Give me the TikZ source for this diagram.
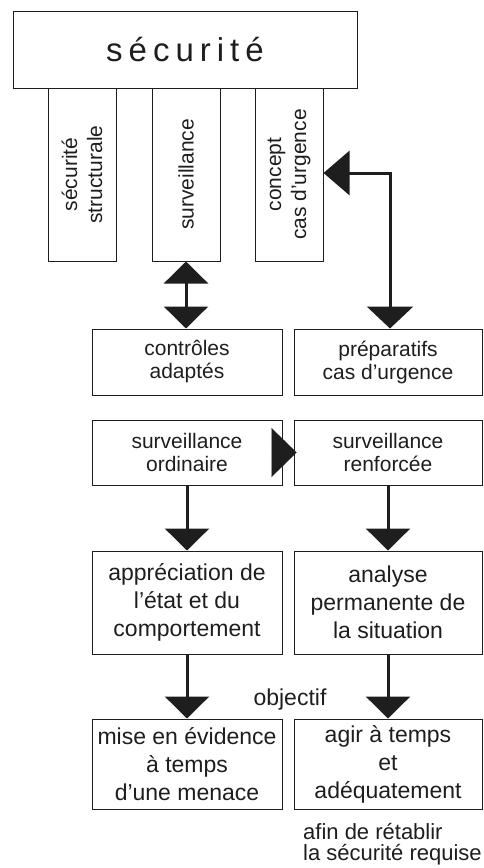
\documentclass[tikz,border=0pt]{standalone}
\usepackage{fontspec}
\setmainfont{Liberation Sans}
\usetikzlibrary{arrows.meta,calc}
\definecolor{ink}{HTML}{1E1E1E}
% text sizes used in the chart
\newcommand\titlesize{\fontsize{33}{40}\selectfont}
\newcommand\midsize{\fontsize{21}{23}\selectfont}
\newcommand\pillarsize{\fontsize{21}{25}\selectfont}
\newcommand\largesize{\fontsize{23}{28}\selectfont}
\newcommand\notesize{\fontsize{22}{21}\selectfont}
\begin{document}
\begin{tikzpicture}[x=1pt,y=-1pt,
  every node/.style={text=ink},
  frame/.style={draw=ink, line width=1pt, rectangle, inner sep=0pt, align=center},
  pillar/.style={frame, minimum width=68pt, minimum height=173pt},
  smallbox/.style={frame, font=\midsize},
  bigbox/.style={frame, font=\largesize},
  pillartext/.style={rotate=90, align=center, font=\pillarsize},
  link/.style={draw=ink, line width=3pt, -{Triangle[width=44pt,length=22pt]}},
  twoway/.style={draw=ink, line width=3pt,
    {Triangle[width=44pt,length=22pt]}-{Triangle[width=44pt,length=22pt]}}
]
\useasboundingbox (0,0) rectangle (484,868);

% header and its three pillars
\node[frame, minimum width=344pt, minimum height=77pt, font=\titlesize]
  (sec) at (185,49.5) {s\kern6pt é\kern6pt c\kern6pt u\kern6pt r\kern6pt i\kern6pt t\kern6pt é};
\node[pillar] (ss) at (82,174.5) {};
\node[pillar] (sv) at (186,174.5) {};
\node[pillar] (cu) at (289,174.5) {};
\node[pillartext] at (ss.center) {sécurité\\structurale};
\node[pillartext] at (sv.center) {surveillance};
\node[pillartext] at (cu.center) {concept\\cas d'urgence};

% left column
\node[smallbox, minimum width=190pt, minimum height=66pt] (ctrl) at (187,362) {contrôles\\adaptés};
\node[smallbox, minimum width=190pt, minimum height=65pt] (so) at (187,452.5) {surveillance\\ordinaire};
\node[bigbox, minimum width=190pt, minimum height=103pt] (ap) at (187,602.5) {appréciation de\\l'état et du\\comportement};
\node[bigbox, minimum width=190pt, minimum height=90pt] (mise) at (187,764) {mise en évidence\\à temps\\d'une menace};

% right column
\node[smallbox, minimum width=188pt, minimum height=66pt] (prep) at (388,362) {préparatifs\\cas d'urgence};
\node[smallbox, minimum width=188pt, minimum height=65pt] (sr) at (388,452.5) {surveillance\\renforcée};
\node[bigbox, minimum width=188pt, minimum height=103pt] (an) at (388,602.5) {analyse\\permanente de\\la situation};
\node[bigbox, minimum width=188pt, minimum height=90pt] (agir) at (388,764) {agir à temps\\et\\adéquatement};

% free labels
\node[font=\largesize, inner sep=0pt] (obj) at (290,700) {objectif};
\node[font=\notesize, inner sep=0pt, align=left, anchor=north west]
  (goal) at (303,823) {afin de rétablir\\la sécurité requise};

% connectors
\draw[twoway] (sv.south) -- (sv.south |- ctrl.north);
\coordinate (bend) at (390,173);
\draw[draw=ink, line width=3pt,
      {Triangle[width=46pt,length=22pt]}-{Triangle[width=44pt,length=26pt]}]
  (prep.north -| bend) -- (bend) -- (cu.east |- bend);
\draw[draw=ink, line width=0.2pt, -{Triangle[width=49pt,length=25pt]}]
  ($(so.east)+(-11,0)$) -- ($(sr.west)+(3,0)$);
\draw[link] (so.south) -- (ap.north);
\draw[link] (sr.south) -- (an.north);
\draw[link] (ap.south) -- (mise.north);
\draw[link] (an.south) -- (agir.north);
\end{tikzpicture}
\end{document}
